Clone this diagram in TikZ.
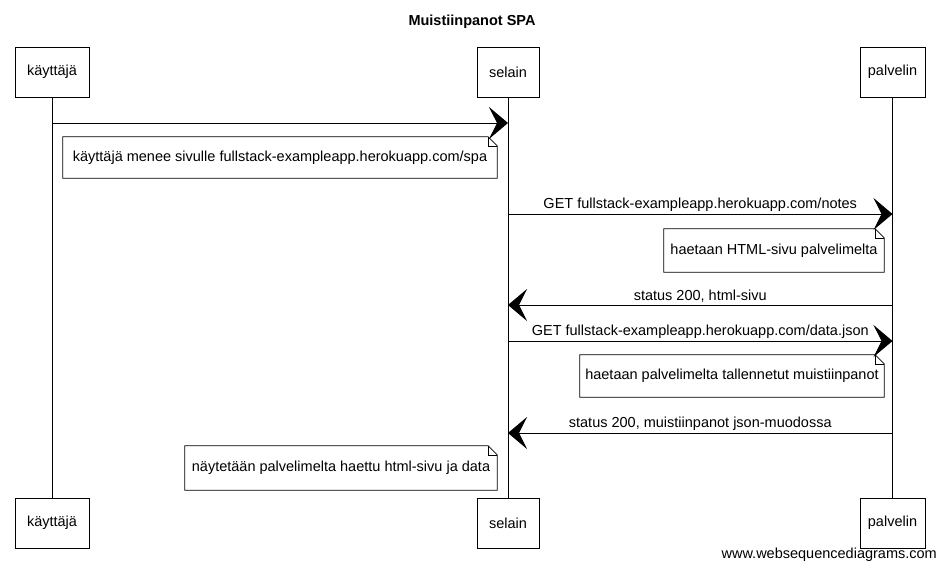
\documentclass[tikz,border=0pt]{standalone}
\usepackage{fontspec}
\setmainfont{Liberation Sans}
\usetikzlibrary{arrows.meta}
\newcommand\notedraw[1]{%
  \draw[line width=0.8pt] (#1.south west) -- (#1.north west) -- ([xshift=-9pt]#1.north east) -- ([yshift=-9pt]#1.north east) -- (#1.south east) -- cycle;
  \draw[line width=0.6pt] ([xshift=-9pt]#1.north east) |- ([yshift=-9pt]#1.north east);}
\begin{document}
\begin{tikzpicture}[x=1pt,y=-1pt, font=\fontsize{14.5}{17}\selectfont,
 actor/.style={draw, line width=0.8pt, minimum height=50pt, inner sep=0pt},
 notebox/.style={inner sep=0pt},
 life/.style={line width=0.7pt},
 msg/.style={line width=0.9pt, -{Stealth[length=19pt,width=32pt,inset=8pt]}},
 lbl/.style={above, inner sep=2pt}]
\useasboundingbox[fill=white] (0,0) rectangle (945,568);
\node[font=\bfseries\fontsize{14.5}{17}\selectfont] (title) at (472,22) {Muistiinpanot SPA};
% actors
\node[actor, minimum width=74pt] (kt) at (52,72) {käyttäjä};
\node[actor, minimum width=62pt] (st) at (508,72) {selain};
\node[actor, minimum width=65pt] (pt) at (892.5,72) {palvelin};
\node[actor, minimum width=74pt] (kb) at (52,523) {käyttäjä};
\node[actor, minimum width=62pt] (sb) at (508,523) {selain};
\node[actor, minimum width=65pt] (pb) at (892.5,523) {palvelin};
\draw[life] (kt.south) -- (kb.north);
\draw[life] (st.south) -- (sb.north);
\draw[life] (pt.south) -- (pb.north);
% message points
\coordinate (k1) at (52,123);
\coordinate (s1) at (508,123);
\coordinate (s2) at (508,214);
\coordinate (p2) at (892.5,214);
\coordinate (p3) at (892.5,305);
\coordinate (s3) at (508,305);
\coordinate (s4) at (508,341);
\coordinate (p4) at (892.5,341);
\coordinate (p5) at (892.5,433);
\coordinate (s5) at (508,433);
% messages
\draw[msg] (k1) -- (s1);
\draw[msg] (s2) -- node[lbl] (l2) {GET fullstack-exampleapp.herokuapp.com/notes} (p2);
\draw[msg] (p3) -- node[lbl] (l3) {status 200, html-sivu} (s3);
\draw[msg] (s4) -- node[lbl] (l4) {GET fullstack-exampleapp.herokuapp.com/data.json} (p4);
\draw[msg] (p5) -- node[lbl] (l5) {status 200, muistiinpanot json-muodossa} (s5);
% notes
\node[notebox, minimum width=434pt, minimum height=41pt] (n1) at (280,157.5) {käyttäjä menee sivulle fullstack-exampleapp.herokuapp.com/spa};
\node[notebox, minimum width=220pt, minimum height=43pt] (n2) at (774,250.5) {haetaan HTML-sivu palvelimelta};
\node[notebox, minimum width=304pt, minimum height=42pt] (n3) at (732,376) {haetaan palvelimelta tallennetut muistiinpanot};
\node[notebox, minimum width=312pt, minimum height=44pt] (n4) at (341,468) {näytetään palvelimelta haettu html-sivu ja data};
\notedraw{n1}
\notedraw{n2}
\notedraw{n3}
\notedraw{n4}
\node[anchor=base east, inner sep=0pt] (foot) at (937,558) {www.websequencediagrams.com};
\end{tikzpicture}
\end{document}
